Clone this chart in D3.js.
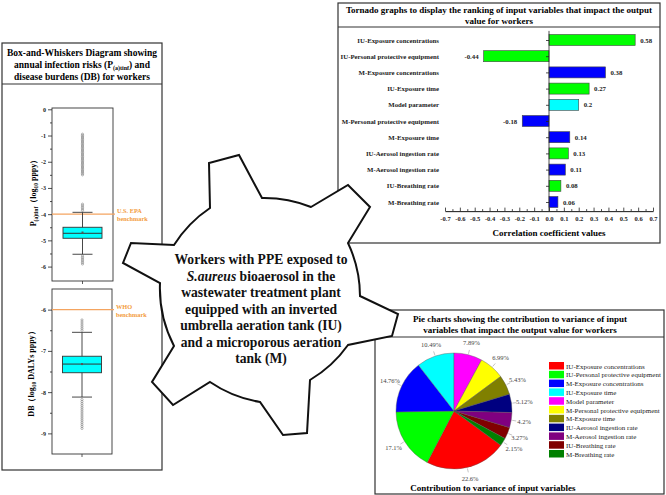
<!DOCTYPE html>
<html lang="en">
<head>
<meta charset="UTF-8">
<title>Workers PPE S.aureus</title>
<style>
  body { margin: 0; background: #fff; }
  text { font-family: "Liberation Serif", "Times New Roman", serif; }
  .bold { font-weight: bold; }
  .panel { fill: none; stroke: #333; stroke-width: 1.2; }
  .axis path, .axis line { stroke: #222; stroke-width: 0.8; }
  .axis text { font-family: "Liberation Serif", serif; font-weight: bold; fill: #222; }
</style>
</head>
<body>
<script src="https://cdn.jsdelivr.net/npm/d3@7"></script>
<script>

// ---- data ----
const variables = ["IU-Exposure concentrations", "IU-Personal protective equipment",
  "M-Exposure concentrations", "IU-Exposure time", "Model parameter",
  "M-Personal protective equipment", "M-Exposure time", "IU-Aerosol ingestion rate",
  "M-Aerosol ingestion rate", "IU-Breathing rate", "M-Breathing rate"]
const correlations = [0.58, -0.44, 0.38, 0.27, 0.2, -0.18, 0.14, 0.13, 0.11, 0.08, 0.06]
const corrTicks = [-0.7, -0.6, -0.5, -0.4, -0.3, -0.2, -0.1, 0, 0.1, 0.2, 0.3, 0.4, 0.5, 0.6, 0.7]

const variances = [22.6, 17.1, 14.76, 10.49, 7.89, 6.99, 5.43, 5.12, 4.2, 3.27, 2.15]
const pieColors = ["#ff0000", "#00ff00", "#0000ff", "#00ffff", "#ff00ff", "#ffff00",
  "#808000", "#000080", "#800080", "#800000", "#008000"]

// box stats: lower whisker, q1, median, q3, upper whisker
const pStats = [-5.53, -4.92, -4.73, -4.5, -3.93]
const pMean = -4.7
const pOutliers = [-0.95, -1.0, -1.05, -1.1, -1.15, -1.2, -1.25, -1.3, -1.35, -1.4, -1.45,
  -1.5, -1.55, -1.6, -1.65, -1.7, -1.75, -1.8, -1.85, -1.9, -1.95, -2.0, -2.05, -2.1,
  -2.15, -2.2, -2.25, -2.3, -2.35, -2.4, -2.45, -2.5,
  -3.62, -3.68, -3.74, -3.8, -3.86,
  -5.6, -5.66, -5.72, -5.78, -5.84, -5.9]
const pTicks = [0, -1, -2, -3, -4, -5, -6]
const pBenchmark = -4

const dbStats = [-8.12, -7.53, -7.32, -7.13, -6.55]
const dbMean = -7.32
const dbOutliers = [-6.25, -6.3, -6.35, -6.4, -6.45, -6.5,
  -8.18, -8.23, -8.28, -8.33, -8.38, -8.43, -8.48, -8.53, -8.58, -8.63, -8.68,
  -8.73, -8.78, -8.83, -8.88]
const dbTicks = [-6, -7, -8, -9]
const dbBenchmark = -6

const gearText = ["Workers with PPE exposed to", "S.aureus| bioaerosol in the",
  "wastewater treatment plant", "equipped with an inverted",
  "umbrella aeration tank (IU)", "and a microporous aeration", "tank (M)"]

// gear outline: teeth corners (decoration)
const gearTeeth = [
  [[210, 208], [209, 163], [239, 155], [262, 198]],
  [[311, 207], [348, 185], [370, 207], [348, 243]],
  [[360, 296], [398, 314], [392, 336], [348, 345]],
  [[310, 380], [307, 433], [283, 435], [260, 402]],
  [[210, 382], [173, 405], [152, 382], [174, 346]],
  [[160, 283], [123, 263], [131, 243], [174, 245]]
]

let svg = d3.select("body").append("svg")
  .attr("width", 666).attr("height", 495)

function barColor(name) {
  if (name.startsWith("IU")) return "#00ff00"
  if (name.startsWith("M-")) return "#0000ff"
  return "#00ffff"
}

// ---------------- panels ----------------
svg.append("rect").attr("class", "panel").attr("x", 2).attr("y", 43).attr("width", 160).attr("height", 427)
svg.append("line").attr("class", "panel").attr("x1", 2).attr("x2", 162).attr("y1", 84).attr("y2", 84)

svg.append("rect").attr("class", "panel").attr("x", 338).attr("y", 3).attr("width", 322).attr("height", 240)
svg.append("line").attr("class", "panel").attr("x1", 338).attr("x2", 660).attr("y1", 27).attr("y2", 27)

svg.append("rect").attr("class", "panel").attr("x", 375).attr("y", 310).attr("width", 289).attr("height", 184)
svg.append("line").attr("class", "panel").attr("x1", 375).attr("x2", 664).attr("y1", 337).attr("y2", 337)

function titleLines(lines, cx, y0, dy, size) {
  lines.forEach((t, i) => {
    svg.append("text").attr("class", "bold").attr("x", cx).attr("y", y0 + i * dy)
      .attr("text-anchor", "middle").style("font-size", size + "px").text(t)
  })
}

// left panel title (with subscript)
titleLines(["Box-and-Whiskers Diagram showing"], 82, 56, 12, 9.5)
let t2 = svg.append("text").attr("class", "bold").attr("x", 82).attr("y", 68)
  .attr("text-anchor", "middle").style("font-size", "9.5px")
t2.append("tspan").text("annual infection risks (P")
t2.append("tspan").attr("dy", 2).style("font-size", "6px").text("(a)tinf")
t2.append("tspan").attr("dy", -2).text(") and")
titleLines(["disease burdens (DB)  for workers"], 82, 80, 12, 9.5)

titleLines(["Tornado graphs to display the ranking of input variables that impact the output",
  "value for workers"], 499, 13, 11, 9)
titleLines(["Pie charts showing the contribution to variance of input",
  "variables that impact the output value for workers"], 520, 322, 11, 9)

// ---------------- box plots ----------------
function boxPlot(opts) {
  let y = d3.scaleLinear().domain(opts.domain).range(opts.range)
  let x0 = opts.x0, x1 = opts.x1, cx = (x0 + x1) / 2
  let g = svg.append("g")
  let s = opts.stats

  g.append("rect").attr("x", x0).attr("y", y(opts.domain[1]))
    .attr("width", x1 - x0).attr("height", y(opts.domain[0]) - y(opts.domain[1]))
    .attr("fill", "none").attr("stroke", "#333").attr("stroke-width", 0.9)

  let minor = d3.pairs(opts.ticks).map(p => (p[0] + p[1]) / 2)
  g.append("g").attr("class", "axis").attr("transform", "translate(" + x0 + ",0)")
    .call(d3.axisLeft(y).tickValues(minor).tickSize(2).tickFormat("").tickSizeOuter(0))
    .select(".domain").remove()
  g.append("g").attr("class", "axis").attr("transform", "translate(" + x0 + ",0)")
    .call(d3.axisLeft(y).tickValues(opts.ticks).tickSize(4).tickPadding(2).tickSizeOuter(0)
      .tickFormat(d => String(d)))
    .call(a => a.select(".domain").remove())
    .selectAll("text").style("font-size", "6px")

  // bottom center tick
  g.append("line").attr("x1", cx).attr("x2", cx)
    .attr("y1", y(opts.domain[0])).attr("y2", y(opts.domain[0]) + 3)
    .attr("stroke", "#333").attr("stroke-width", 0.8)

  // benchmark
  g.append("line").attr("x1", x0).attr("x2", x1 + 2)
    .attr("y1", y(opts.bench)).attr("y2", y(opts.bench))
    .attr("stroke", "#f4a460").attr("stroke-width", 1.3)
  opts.benchLabel.forEach((t, i) => {
    g.append("text").attr("class", "bold").attr("x", x1 + 4).attr("y", y(opts.bench) + i * 8 - 1)
      .style("font-size", "6.3px").attr("fill", "#f39c40").text(t)
  })

  // whiskers
  g.append("line").attr("x1", cx).attr("x2", cx).attr("y1", y(s[0])).attr("y2", y(s[4]))
    .attr("stroke", "#333").attr("stroke-width", 0.9)
  ;[s[0], s[4]].forEach(v => {
    g.append("line").attr("x1", cx - 10).attr("x2", cx + 10).attr("y1", y(v)).attr("y2", y(v))
      .attr("stroke", "#333").attr("stroke-width", 0.9)
  })
  // box
  g.append("rect").attr("x", cx - 19.5).attr("width", 39)
    .attr("y", y(s[3])).attr("height", y(s[1]) - y(s[3]))
    .attr("fill", "#00ffff").attr("stroke", "#333").attr("stroke-width", 0.9)
  g.append("line").attr("x1", cx - 19.5).attr("x2", cx + 19.5).attr("y1", y(s[2])).attr("y2", y(s[2]))
    .attr("stroke", "#333").attr("stroke-width", 1)
  g.append("rect").attr("x", cx - 1).attr("y", y(opts.mean) - 1).attr("width", 2).attr("height", 2)
    .attr("fill", "#555")

  g.selectAll(".out").data(opts.outliers).join("circle")
    .attr("cx", cx).attr("cy", d => y(d)).attr("r", 1.1)
    .attr("fill", "none").attr("stroke", "#777").attr("stroke-width", 0.55)

  // y title
  let yt = g.append("text").attr("class", "bold")
    .attr("transform", "translate(" + opts.labelX + "," + opts.labelY + ") rotate(-90)")
    .attr("text-anchor", "middle").style("font-size", "8px")
  opts.label.forEach(p => {
    yt.append("tspan").attr("dy", p.dy || 0).style("font-size", p.size || "8px").text(p.t)
  })
}

boxPlot({
  domain: [-6.55, 0.05], range: [281, 108], x0: 52, x1: 113,
  stats: pStats, mean: pMean, outliers: pOutliers, ticks: pTicks,
  bench: pBenchmark, benchLabel: ["U.S. EPA", "benchmark"],
  labelX: 36, labelY: 191,
  label: [{ t: "P" }, { t: "(a)tinf", dy: 2, size: "5.5px" }, { t: "（log", dy: -2 },
    { t: "10", dy: 2, size: "5.5px" }, { t: " pppy）", dy: -2 }]
})
boxPlot({
  domain: [-9.5, -5.5], range: [454, 289], x0: 52, x1: 112,
  stats: dbStats, mean: dbMean, outliers: dbOutliers, ticks: dbTicks,
  bench: dbBenchmark, benchLabel: ["WHO", "benchmark"],
  labelX: 34, labelY: 372,
  label: [{ t: "DB（log" }, { t: "10", dy: 2, size: "5.5px" }, { t: " DALYs pppy）", dy: -2 }]
})

// ---------------- tornado ----------------
let xT = d3.scaleLinear().domain([-0.7, 0.7]).range([445, 653])
let yT = d3.scalePoint().domain(variables).range([40, 202])
let tornado = variables.map((v, i) => ({ name: v, value: correlations[i] }))
let tg = svg.append("g")

tg.selectAll(".bar").data(tornado).join("rect")
  .attr("x", d => xT(Math.min(0, d.value)))
  .attr("width", d => Math.abs(xT(d.value) - xT(0)))
  .attr("y", d => yT(d.name) - 5.5).attr("height", 11)
  .attr("fill", d => barColor(d.name)).attr("stroke", "#444").attr("stroke-width", 0.6)

tg.selectAll(".val").data(tornado).join("text").attr("class", "bold")
  .attr("x", d => d.value > 0 ? xT(d.value) + 5 : xT(d.value) - 5)
  .attr("y", d => yT(d.name) + 2.5)
  .attr("text-anchor", d => d.value > 0 ? "start" : "end")
  .style("font-size", "6.8px").attr("fill", "#222")
  .text(d => String(d.value))

tg.selectAll(".cat").data(tornado).join("text").attr("class", "bold")
  .attr("x", 439).attr("y", d => yT(d.name) + 2.5).attr("text-anchor", "end")
  .style("font-size", "6.8px").attr("fill", "#222").text(d => d.name)

// vertical zero axis
let axisTop = yT.range()[0] - yT.step() / 2 - 1
let axisBot = yT.range()[1] + yT.step() / 2 + 1
tg.append("g").attr("class", "axis").attr("transform", "translate(" + xT(0) + ",0)")
  .call(d3.axisLeft(yT).tickSize(3).tickFormat("").tickSizeOuter(0))
  .select(".domain").remove()
tg.append("line").attr("x1", xT(0)).attr("x2", xT(0)).attr("y1", axisTop).attr("y2", axisBot)
  .attr("stroke", "#222").attr("stroke-width", 0.8)

// horizontal axis
let minorT = d3.pairs(corrTicks).map(p => (p[0] + p[1]) / 2)
tg.append("g").attr("class", "axis").attr("transform", "translate(0," + axisBot + ")")
  .call(d3.axisBottom(xT).tickValues(minorT).tickSize(-2).tickFormat("").tickSizeOuter(0))
tg.append("g").attr("class", "axis").attr("transform", "translate(0," + axisBot + ")")
  .call(d3.axisBottom(xT).tickValues(corrTicks).tickSize(-3.5).tickPadding(5).tickSizeOuter(0)
    .tickFormat(d => d.toFixed(1)))
  .selectAll("text").style("font-size", "6.5px")
tg.append("text").attr("class", "bold").attr("x", xT(0)).attr("y", axisBot + 25)
  .attr("text-anchor", "middle").style("font-size", "9px").text("Correlation coefficient values")

// ---------------- pie ----------------
let pieCx = 454, pieCy = 411, pieR = 58
let firstFour = d3.sum(variances.slice(0, 4)) / d3.sum(variances)
let start = 2 * Math.PI * (1 - firstFour)
let pie = d3.pie().sort(null).startAngle(start).endAngle(start + 2 * Math.PI)
let arcs = pie(variances)
let arc = d3.arc().innerRadius(0).outerRadius(pieR)
let pg = svg.append("g").attr("transform", "translate(" + pieCx + "," + pieCy + ")")

pg.selectAll(".slice").data(arcs).join("path")
  .attr("d", arc).attr("fill", (d, i) => pieColors[i])
  .attr("stroke", "#555").attr("stroke-width", 0.4)

function polar(a, r) { return [r * Math.sin(a), -r * Math.cos(a)] }
pg.selectAll(".lead").data(arcs).join("line")
  .attr("x1", d => polar((d.startAngle + d.endAngle) / 2, pieR + 1)[0])
  .attr("y1", d => polar((d.startAngle + d.endAngle) / 2, pieR + 1)[1])
  .attr("x2", d => polar((d.startAngle + d.endAngle) / 2, pieR + 5)[0])
  .attr("y2", d => polar((d.startAngle + d.endAngle) / 2, pieR + 5)[1])
  .attr("stroke", "#888").attr("stroke-width", 0.5)
pg.selectAll(".pct").data(arcs).join("text")
  .attr("x", d => polar((d.startAngle + d.endAngle) / 2, pieR + 13)[0])
  .attr("y", d => polar((d.startAngle + d.endAngle) / 2, pieR + 12)[1] + 2.3)
  .attr("text-anchor", "middle").style("font-size", "6.5px").attr("fill", "#444")
  .text(d => d.data + "%")

// legend
let lg = svg.append("g")
variables.forEach((v, i) => {
  lg.append("rect").attr("x", 549).attr("y", 362 + i * 8.8).attr("width", 15).attr("height", 7.5)
    .attr("fill", pieColors[i])
  lg.append("text").attr("x", 566).attr("y", 368.5 + i * 8.8).style("font-size", "7px")
    .attr("fill", "#222").text(v)
})
svg.append("text").attr("class", "bold").attr("x", 493).attr("y", 491).attr("text-anchor", "middle")
  .style("font-size", "9px").text("Contribution to variance of input variables")

// ---------------- gear ----------------
let gd = ""
gearTeeth.forEach((tooth, i) => {
  gd += (i === 0 ? "M" : "L") + tooth[0][0] + "," + tooth[0][1]
  tooth.slice(1).forEach(p => { gd += "L" + p[0] + "," + p[1] })
  let next = gearTeeth[(i + 1) % gearTeeth.length][0]
  gd += "A125,125 0 0 1 " + next[0] + "," + next[1]
})
svg.append("path").attr("d", gd + "Z").attr("fill", "#fff")
  .attr("stroke", "#111").attr("stroke-width", 2).attr("stroke-linejoin", "miter")

gearText.forEach((line, i) => {
  let t = svg.append("text").attr("class", "bold").attr("x", 261).attr("y", 264 + i * 16.5)
    .attr("text-anchor", "middle").style("font-size", "13.6px").attr("fill", "#111")
  let parts = line.split("|")
  if (parts.length > 1) {
    t.append("tspan").style("font-style", "italic").text(parts[0])
    t.append("tspan").text(parts[1])
  } else t.text(line)
})

</script>
</body>
</html>
